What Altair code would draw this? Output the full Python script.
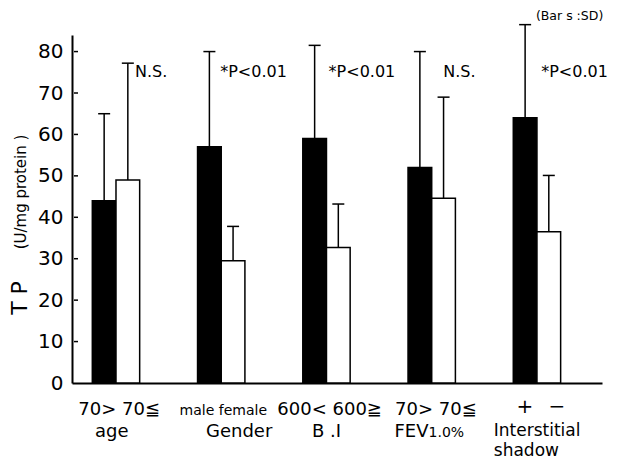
import altair as alt
import pandas as pd

# ---- data ----
groups = ["age", "Gender", "B .I", "FEV1.0%", "Interstitial shadow"]
black_mean = [44, 57, 59, 52, 64]
black_sd = [21, 23, 22.5, 28, 22.5]
white_mean = [49, 29.5, 32.7, 44.6, 36.5]
white_sd = [28.2, 8.3, 10.5, 24.4, 13.6]
y_ticks = [0, 10, 20, 30, 40, 50, 60, 70, 80]

annot_text = ["N.S.", "*P<0.01", "*P<0.01", "N.S.", "*P<0.01"]
annot_x = [0.18, 0.99, 2.02, 3.11, 4.04]
annot_y = 75

line1_text = ["70> 70≦", "600< 600≧", "70> 70≦"]
line1_x = [0.03, 2.03, 3.04]
gender_text = ["male female"]
gender_x = [1.02]
sign_text = ["+", "−"]
sign_x = [3.886, 4.19]
line2_text = ["age", "Gender", "B .I"]
line2_x = [-0.04, 1.17, 2.0]
fev_main, fev_sub, fev_x = "FEV", "1.0%", 2.97
inter_text = ["Interstitial", "shadow"]
inter_x = 3.59

FONT = "DejaVu Sans"
BW = 0.225
CAP = 0.057

rows = []
for i, g in enumerate(groups):
    rows.append(dict(group=g, kind="black", x0=i - BW, x1=i, xc=i - BW / 2,
                     mean=black_mean[i], upper=black_mean[i] + black_sd[i]))
    rows.append(dict(group=g, kind="white", x0=i, x1=i + BW, xc=i + BW / 2,
                     mean=white_mean[i], upper=white_mean[i] + white_sd[i]))
df = pd.DataFrame(rows)
df["c0"] = df["xc"] - CAP
df["c1"] = df["xc"] + CAP

xs = alt.Scale(domain=[-0.418, 4.618], nice=False, zero=False)
ys = alt.Scale(domain=[0, 84], nice=False)

base = alt.Chart(df)

bars = base.mark_rect(stroke="black", strokeWidth=1.5).encode(
    x=alt.X("x0:Q", scale=xs, axis=alt.Axis(labels=False, ticks=False, grid=False,
                                            title=None, domainColor="black", domainWidth=2)),
    x2="x1:Q",
    y=alt.Y("mean:Q", scale=ys, axis=alt.Axis(values=y_ticks, ticks=False, grid=False, title=None,
                                              labelFontSize=20, labelFont=FONT, labelColor="black",
                                              labelPadding=9, domainColor="black", domainWidth=2)),
    y2=alt.datum(0),
    fill=alt.Fill("kind:N", scale=alt.Scale(domain=["black", "white"], range=["black", "white"]),
                  legend=None),
)

err = base.mark_rule(color="black", strokeWidth=1.5).encode(
    x=alt.X("xc:Q", scale=xs), y=alt.Y("mean:Q", scale=ys), y2="upper:Q")
caps = base.mark_rule(color="black", strokeWidth=1.5).encode(
    x=alt.X("c0:Q", scale=xs), x2="c1:Q", y=alt.Y("upper:Q", scale=ys))

tick_df = pd.DataFrame({"v": y_ticks[1:]})
inner_ticks = alt.Chart(tick_df).mark_rule(color="black", strokeWidth=1.5).encode(
    x=alt.value(2), x2=alt.value(6), y=alt.Y("v:Q", scale=ys))

ann_df = pd.DataFrame({"t": annot_text, "x": annot_x, "y": [annot_y] * len(annot_text)})
ann = alt.Chart(ann_df).mark_text(font=FONT, fontSize=16, align="left", baseline="middle",
                                  color="black").encode(
    x=alt.X("x:Q", scale=xs), y=alt.Y("y:Q", scale=ys), text="t:N")

sd_df = pd.DataFrame({"t": ["(Bar s :SD)"], "x": [3.99], "y": [88.6]})
sd_note = alt.Chart(sd_df).mark_text(font=FONT, fontSize=12.5, align="left", baseline="middle",
                                     color="black").encode(
    x=alt.X("x:Q", scale=xs), y=alt.Y("y:Q", scale=ys), text="t:N")


def row_text(texts, xvals, ypix, size, align="center"):
    d = pd.DataFrame({"t": texts, "x": xvals})
    return alt.Chart(d).mark_text(font=FONT, fontSize=size, align=align, baseline="alphabetic",
                                  color="black").encode(
        x=alt.X("x:Q", scale=xs), y=alt.value(ypix), text="t:N")


L1, L2, L3 = 380, 402, 421
lab1 = row_text(line1_text, line1_x, L1, 18)
labg = row_text(gender_text, gender_x, L1, 14)
labs = row_text(sign_text, sign_x, L1 - 2, 20)
lab2 = row_text(line2_text, line2_x, L2, 18)
fev1 = row_text([fev_main], [fev_x], L2, 18, "right")
fev2 = row_text([fev_sub], [fev_x], L2, 14, "left")
inter1 = row_text([inter_text[0]], [inter_x], L2 - 1.5, 17, "left")
inter2 = row_text([inter_text[1]], [inter_x], L3, 17, "left")

ytitle_df = pd.DataFrame({"t": ["T  P", "(U/mg protein )"], "yy": [263, 157]})
yt1 = alt.Chart(ytitle_df.iloc[[0]]).mark_text(font=FONT, fontSize=22, angle=270, align="center",
                                                baseline="alphabetic", color="black").encode(
    x=alt.value(-45), y=alt.Y("yy:Q", scale=None), text="t:N")
yt2 = alt.Chart(ytitle_df.iloc[[1]]).mark_text(font=FONT, fontSize=15, angle=270, align="center",
                                                baseline="alphabetic", color="black").encode(
    x=alt.value(-46), y=alt.Y("yy:Q", scale=None), text="t:N")

chart = alt.layer(
    bars, err, caps, inner_ticks, ann, sd_note,
    lab1, labg, labs, lab2, fev1, fev2, inter1, inter2, yt1, yt2,
).properties(
    width=530, height=348,
    autosize=alt.AutoSizeParams(type="none"),
    padding={"left": 64, "top": 27, "right": 7, "bottom": 78},
    background="white",
).configure_view(stroke=None)

chart.save("out.html", embed_options={"renderer": "svg", "actions": False})
